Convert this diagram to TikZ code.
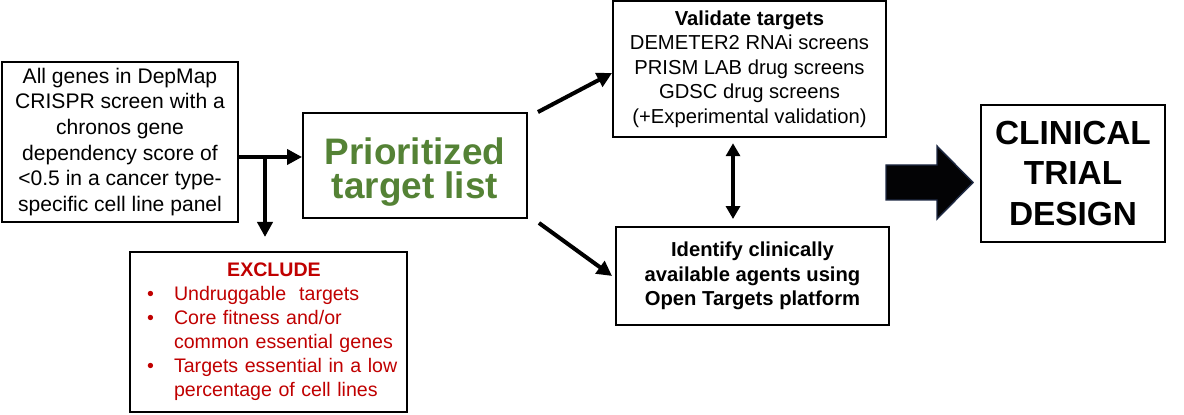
\documentclass[tikz,border=0pt]{standalone}
\usepackage{fontspec}
\setmainfont{Liberation Sans}
\usepackage{xcolor}
\usepackage{tikz}
\usetikzlibrary{arrows.meta, positioning, calc}
\definecolor{Ink}{HTML}{000000}
\definecolor{LeafGreen}{HTML}{548235}
\definecolor{DarkRed}{HTML}{C00000}
\definecolor{Navy}{HTML}{1F2A44}

\begin{document}
\begin{tikzpicture}[
  x=0.02cm, y=-0.02cm,
  box/.style={draw=Ink, line width=1.1pt, fill=white, align=center, inner sep=2pt},
  note/.style={box, font=\fontsize{12}{14.6}\selectfont},
  arrow/.style={-{Triangle[length=0.3cm, width=0.3cm]}, line width=2.3pt, draw=Ink},
  dblarrow/.style={{Triangle[length=0.26cm, width=0.28cm]}-{Triangle[length=0.26cm, width=0.28cm]}, line width=2pt, draw=Ink}
]
\useasboundingbox (0,0) rectangle (1184,415);

\node[note, minimum width=4.72cm, minimum height=3.2cm] (genes) at (120,142)
  {All genes in DepMap\\CRISPR screen with a\\chronos gene\\dependency score of\\<0.5 in a cancer type-\\specific cell line panel};
\node[box, minimum width=4.48cm, minimum height=2.1cm, text=LeafGreen,
  font=\fontsize{21}{19.5}\selectfont\bfseries] (prio) at (415,165.5)
  {\rule{0pt}{23pt}Prioritized\\target list};
\node[box, minimum width=5.46cm, minimum height=2.72cm,
  font=\fontsize{11.5}{14}\selectfont] (val) at (749.5,69)
  {\textbf{Validate targets}\\DEMETER2 RNAi screens\\PRISM LAB drug screens\\GDSC drug screens\\(+Experimental validation)};
\node[box, minimum width=5.46cm, minimum height=1.96cm,
  font=\fontsize{11.5}{14}\selectfont\bfseries] (ident) at (752.5,276)
  {Identify clinically\\available agents using\\Open Targets platform};
\node[box, minimum width=3.68cm, minimum height=2.74cm,
  font=\fontsize{19}{23}\selectfont\bfseries] (trial) at (1073,173.5)
  {CLINICAL\\TRIAL\\DESIGN};
\node[box, minimum width=5.54cm, minimum height=3.2cm, text width=5.54cm, align=left,
  text=DarkRed, inner sep=0pt, font=\fontsize{11.15}{13.7}\selectfont] (excl) at (268.5,332)
  {\begin{tabular}{@{\hspace{0.34cm}}p{0.54cm}@{}l@{}}
    \multicolumn{2}{@{\hspace{0.34cm}}l@{}}{\makebox[5.08cm]{\textbf{EXCLUDE}}}\\
    \textbullet & Undruggable\ \ targets\\
    \textbullet & Core fitness and/or\\
                & common essential genes\\
    \textbullet & Targets essential in a low\\
                & percentage of cell lines
  \end{tabular}};

% block arrow to the trial design
\fill[black!92!Navy, draw=Navy, line width=0.8pt]
  (886,165) -- (937,165) -- (937,146) -- (973,182.5) -- (937,219) -- (937,200) -- (886,200) -- cycle;

\coordinate (split) at (265,157);
\draw[arrow] ([yshift=-0.3cm]genes.east) -- ([yshift=-0.3cm]genes.east -| prio.west);
\draw[arrow, shorten >=8pt] (split) -- (split |- excl.north);
\draw[arrow] ([xshift=0.2cm]prio.north east) -- ([yshift=-0.08cm]val.west);
\draw[arrow] ([xshift=0.22cm, yshift=-0.08cm]prio.south east) -- ([xshift=-0.06cm]ident.west);
\draw[dblarrow, shorten <=3pt, shorten >=4pt] ([xshift=-0.33cm]val.south) -- ([xshift=-0.33cm]val.south |- ident.north);
\end{tikzpicture}
\end{document}
